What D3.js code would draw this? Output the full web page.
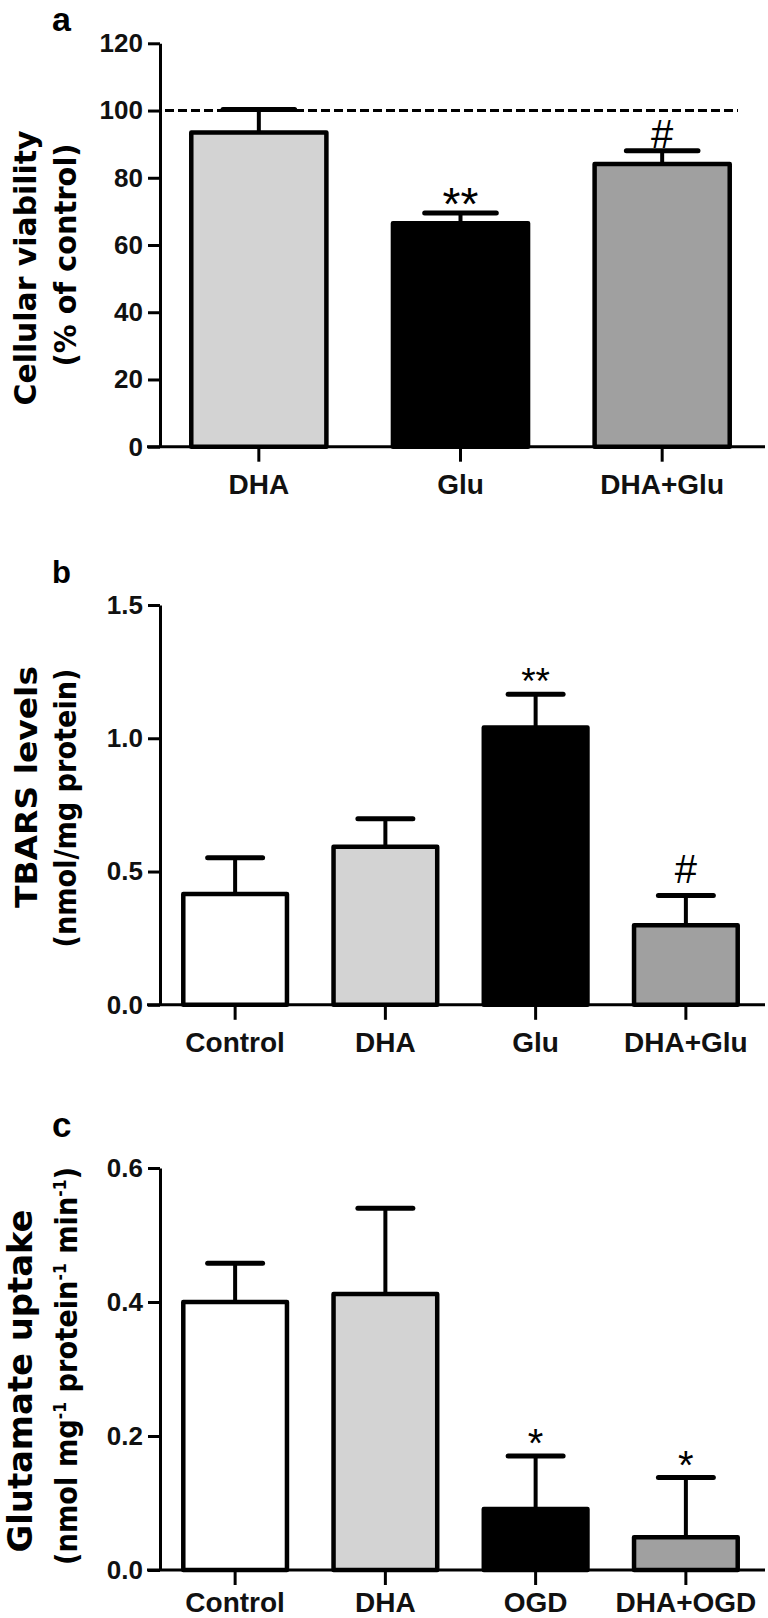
<!DOCTYPE html>
<html>
<head>
<meta charset="utf-8">
<script src="https://cdn.jsdelivr.net/npm/d3@7"></script>
<style>
  body { margin: 0; background: #fff; }
  svg { display: block; }
</style>
</head>
<body>
<div id="chart"></div>
<script>
// panel a : cellular viability (% of control)
const aGroups = ['DHA', 'Glu', 'DHA+Glu'];
const aMeans = [93.5, 66.5, 84.1];
const aErrors = [6.8, 3.0, 3.9];
const aSigns = ['', '**', '#'];
const aTicks = [0, 20, 40, 60, 80, 100, 120];
const aControlLine = 100;

// panel b : TBARS levels
const bGroups = ['Control', 'DHA', 'Glu', 'DHA+Glu'];
const bMeans = [0.416, 0.593, 1.04, 0.298];
const bErrors = [0.136, 0.105, 0.125, 0.112];
const bSigns = ['', '', '**', '#'];
const bTicks = [0, 0.5, 1.0, 1.5];

// panel c : glutamate uptake
const cGroups = ['Control', 'DHA', 'OGD', 'DHA+OGD'];
const cMeans = [0.400, 0.412, 0.091, 0.049];
const cErrors = [0.058, 0.128, 0.079, 0.089];
const cSigns = ['', '', '*', '*'];
const cTicks = [0, 0.2, 0.4, 0.6];

const fills = {
  'Control': '#ffffff', 'DHA': '#d3d3d3',
  'Glu': '#000000', 'OGD': '#000000',
  'DHA+Glu': '#a0a0a0', 'DHA+OGD': '#a0a0a0'
};

const tickFont = '"Liberation Sans", Arial, sans-serif';
const titleFont = '"DejaVu Sans", "Liberation Sans", sans-serif';

const svg = d3.select('#chart').append('svg')
  .attr('width', 768)
  .attr('height', 1618);

function drawPanel(p) {
  const g = svg.append('g');
  const data = p.groups.map((name, i) => ({name, mean: p.means[i], err: p.errors[i], sign: p.signs[i]}));

  const x = d3.scaleBand().domain(p.groups).range(p.xRange).padding(0);
  const y = d3.scaleLinear().domain([0, d3.max(p.ticks)]).range([p.bottom, p.top]);
  const barW = x.bandwidth() * p.barFrac;
  const capW = barW * 0.53;
  const cx = d => x(d.name) + x.bandwidth() / 2;

  // y axis
  const yAxis = g.append('g')
    .attr('transform', 'translate(160,0)')
    .call(d3.axisLeft(y).tickValues(p.ticks).tickSize(12).tickSizeOuter(0).tickPadding(5).tickFormat(p.format));
  yAxis.select('.domain').attr('stroke-width', 3);
  yAxis.selectAll('.tick line').attr('stroke-width', 3);
  yAxis.selectAll('.tick text')
    .style('font-family', tickFont).style('font-weight', 'bold').style('font-size', '26px').attr('fill', '#111');

  // x axis
  const xAxis = g.append('g')
    .attr('transform', 'translate(0,' + p.bottom + ')')
    .call(d3.axisBottom(x).tickSize(15).tickSizeOuter(0).tickPadding(p.labelPad));
  xAxis.select('.domain').remove();
  xAxis.selectAll('.tick line').attr('stroke-width', 3);
  xAxis.selectAll('.tick text')
    .style('font-family', tickFont).style('font-weight', 'bold').style('font-size', '28px').attr('fill', '#111');
  g.append('line')
    .attr('x1', 147).attr('x2', 765)
    .attr('y1', p.bottom).attr('y2', p.bottom)
    .attr('stroke', '#000').attr('stroke-width', 3);

  // reference line at 100 %
  if (p.refLine != null) {
    g.append('line')
      .attr('x1', 165).attr('x2', 738)
      .attr('y1', y(p.refLine)).attr('y2', y(p.refLine))
      .attr('stroke', '#000').attr('stroke-width', 3)
      .attr('stroke-dasharray', '9,4');
  }

  // error bars
  g.selectAll('.err').data(data).enter().append('line')
    .attr('x1', cx).attr('x2', cx)
    .attr('y1', d => y(d.mean)).attr('y2', d => y(d.mean + d.err))
    .attr('stroke', '#000').attr('stroke-width', 4);
  g.selectAll('.cap').data(data).enter().append('line')
    .attr('x1', d => cx(d) - capW / 2).attr('x2', d => cx(d) + capW / 2)
    .attr('y1', d => y(d.mean + d.err)).attr('y2', d => y(d.mean + d.err))
    .attr('stroke', '#000').attr('stroke-width', 5).attr('stroke-linecap', 'round');

  // bars
  g.selectAll('.bar').data(data).enter().append('rect')
    .attr('x', d => cx(d) - barW / 2)
    .attr('width', barW)
    .attr('y', d => y(d.mean))
    .attr('height', d => y(0) - y(d.mean))
    .attr('fill', d => fills[d.name])
    .attr('stroke', '#000').attr('stroke-width', 4.5)
    .attr('stroke-linejoin', 'round');

  // significance marks
  g.selectAll('.sig').data(data.filter(d => d.sign)).enter().append('text')
    .attr('x', cx)
    .attr('y', d => y(d.mean + d.err) + (d.sign.includes('*') ? p.starShift : p.hashShift))
    .attr('text-anchor', 'middle')
    .style('font-family', tickFont)
    .style('font-size', d => (d.sign.includes('*') ? p.starSize : 40) + 'px')
    .text(d => d.sign);

  // panel letter
  g.append('text')
    .attr('x', 52).attr('y', p.letterY)
    .style('font-family', tickFont).style('font-weight', 'bold')
    .style('font-size', p.letterSize + 'px')
    .text(p.letter);

  // y titles, rotated
  p.titles.forEach(t => {
    const txt = g.append('text')
      .attr('transform', 'translate(' + t.x + ',' + t.cy + ') rotate(-90)')
      .attr('text-anchor', 'middle')
      .attr('textLength', t.len)
      .attr('lengthAdjust', 'spacingAndGlyphs')
      .style('font-family', titleFont).style('font-weight', 'bold')
      .style('font-size', t.size + 'px');
    let raised = false;
    t.parts.forEach(part => {
      const span = txt.append('tspan').text(part.s);
      if (part.sup) {
        span.attr('dy', -11).style('font-size', '17px');
        raised = true;
      } else if (raised) {
        span.attr('dy', 11);
        raised = false;
      }
    });
  });
}

drawPanel({
  groups: aGroups, means: aMeans, errors: aErrors, signs: aSigns, ticks: aTicks,
  format: d3.format('d'), refLine: aControlLine,
  top: 43.3, bottom: 446.7, xRange: [158, 763], barFrac: 0.67, labelPad: 12,
  starSize: 46, starShift: 7, hashShift: -3,
  letter: 'a', letterY: 31, letterSize: 34,
  titles: [
    {x: 36, cy: 268, len: 275, size: 30, parts: [{s: 'Cellular viability'}]},
    {x: 76, cy: 255, len: 223, size: 30, parts: [{s: '(% of control)'}]}
  ]
});

drawPanel({
  groups: bGroups, means: bMeans, errors: bErrors, signs: bSigns, ticks: bTicks,
  format: d3.format('.1f'), refLine: null,
  top: 605, bottom: 1004.8, xRange: [160, 761], barFrac: 0.69, labelPad: 12,
  starSize: 37, starShift: 0, hashShift: -13,
  letter: 'b', letterY: 583, letterSize: 31,
  titles: [
    {x: 37, cy: 787, len: 242, size: 30, parts: [{s: 'TBARS levels'}]},
    {x: 76, cy: 808, len: 279, size: 30, parts: [{s: '(nmol/mg protein)'}]}
  ]
});

drawPanel({
  groups: cGroups, means: cMeans, errors: cErrors, signs: cSigns, ticks: cTicks,
  format: d3.format('.1f'), refLine: null,
  top: 1168, bottom: 1570, xRange: [160, 761], barFrac: 0.69, labelPad: 7,
  starSize: 40, starShift: 1, hashShift: -13,
  letter: 'c', letterY: 1137, letterSize: 35,
  titles: [
    {x: 32, cy: 1381, len: 343, size: 34, parts: [{s: 'Glutamate uptake'}]},
    {x: 77, cy: 1366, len: 398, size: 30, parts: [
      {s: '(nmol mg'}, {s: '-1', sup: true}, {s: ' protein'}, {s: '-1', sup: true},
      {s: ' min'}, {s: '-1', sup: true}, {s: ')'}
    ]}
  ]
});
</script>
</body>
</html>
